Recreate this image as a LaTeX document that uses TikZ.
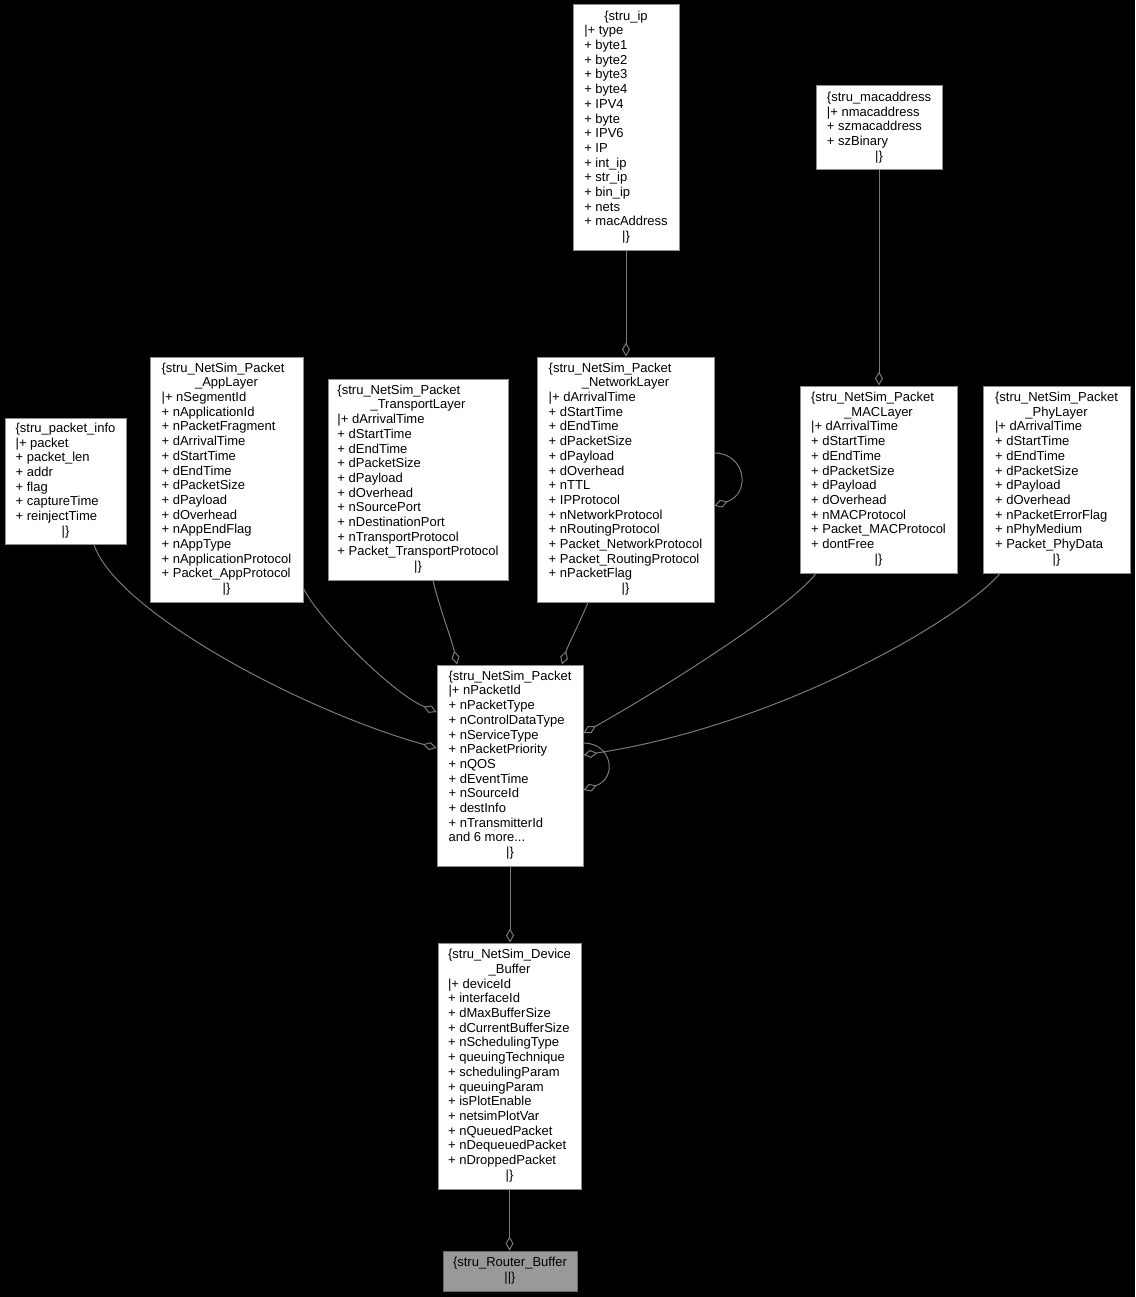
\documentclass[tikz,border=0pt]{standalone}
\usepackage{fontspec}
\setmainfont{Liberation Sans}
\usetikzlibrary{arrows.meta,calc}
\definecolor{edgegray}{RGB}{122,122,122}
\definecolor{boxgray}{RGB}{140,140,140}
\definecolor{routerfill}{RGB}{153,153,153}
\definecolor{routerdraw}{RGB}{102,102,102}
\newcommand\recfnt{\fontsize{13}{14.7}\selectfont}
\newcommand\ctr[1]{\multicolumn{1}{c}{#1}}
\begin{document}
\begin{tikzpicture}[x=1pt,y=-1pt,
  rec/.style={draw=boxgray, fill=white, line width=1pt, inner sep=0pt, font=\recfnt, text=black},
  agg/.style={draw=edgegray, line width=1pt, -{Diamond[open,length=14pt,width=8pt]}}]
\fill[black] (0,0) rectangle (1135,1297);
\useasboundingbox (0,0) rectangle (1135,1297);

\node[rec, minimum width=106pt, minimum height=245pt] (ip) at (626,127.5) {\begin{tabular}{@{}l@{}}\ctr{\{stru\_ip}\\|+ type\\+ byte1\\+ byte2\\+ byte3\\+ byte4\\+ IPV4\\+ byte\\+ IPV6\\+ IP\\+ int\_ip\\+ str\_ip\\+ bin\_ip\\+ nets\\+ macAddress\\\ctr{|\}}\end{tabular}};

\node[rec, minimum width=126pt, minimum height=84pt] (mac) at (879,128) {\begin{tabular}{@{}l@{}}\{stru\_macaddress\\|+ nmacaddress\\+ szmacaddress\\+ szBinary\\\ctr{|\}}\end{tabular}};

\node[rec, minimum width=121pt, minimum height=126pt] (pinfo) at (65.5,481) {\begin{tabular}{@{}l@{}}\{stru\_packet\_info\\|+ packet\\+ packet\_len\\+ addr\\+ flag\\+ captureTime\\+ reinjectTime\\\ctr{|\}}\end{tabular}};

\node[rec, minimum width=153pt, minimum height=245pt] (app) at (226.5,479.5) {\begin{tabular}{@{}l@{}}\{stru\_NetSim\_Packet\\\ctr{\_AppLayer}\\|+ nSegmentId\\+ nApplicationId\\+ nPacketFragment\\+ dArrivalTime\\+ dStartTime\\+ dEndTime\\+ dPacketSize\\+ dPayload\\+ dOverhead\\+ nAppEndFlag\\+ nAppType\\+ nApplicationProtocol\\+ Packet\_AppProtocol\\\ctr{|\}}\end{tabular}};

\node[rec, minimum width=180pt, minimum height=201pt] (trans) at (418,479.5) {\begin{tabular}{@{}l@{}}\{stru\_NetSim\_Packet\\\ctr{\_TransportLayer}\\|+ dArrivalTime\\+ dStartTime\\+ dEndTime\\+ dPacketSize\\+ dPayload\\+ dOverhead\\+ nSourcePort\\+ nDestinationPort\\+ nTransportProtocol\\+ Packet\_TransportProtocol\\\ctr{|\}}\end{tabular}};

\node[rec, minimum width=177pt, minimum height=245pt] (net) at (625.5,479.5) {\begin{tabular}{@{}l@{}}\{stru\_NetSim\_Packet\\\ctr{\_NetworkLayer}\\|+ dArrivalTime\\+ dStartTime\\+ dEndTime\\+ dPacketSize\\+ dPayload\\+ dOverhead\\+ nTTL\\+ IPProtocol\\+ nNetworkProtocol\\+ nRoutingProtocol\\+ Packet\_NetworkProtocol\\+ Packet\_RoutingProtocol\\+ nPacketFlag\\\ctr{|\}}\end{tabular}};

\node[rec, minimum width=157pt, minimum height=187pt] (maclayer) at (878.5,479.5) {\begin{tabular}{@{}l@{}}\{stru\_NetSim\_Packet\\\ctr{\_MACLayer}\\|+ dArrivalTime\\+ dStartTime\\+ dEndTime\\+ dPacketSize\\+ dPayload\\+ dOverhead\\+ nMACProtocol\\+ Packet\_MACProtocol\\+ dontFree\\\ctr{|\}}\end{tabular}};

\node[rec, minimum width=147pt, minimum height=187pt] (phy) at (1056.5,479.5) {\begin{tabular}{@{}l@{}}\{stru\_NetSim\_Packet\\\ctr{\_PhyLayer}\\|+ dArrivalTime\\+ dStartTime\\+ dEndTime\\+ dPacketSize\\+ dPayload\\+ dOverhead\\+ nPacketErrorFlag\\+ nPhyMedium\\+ Packet\_PhyData\\\ctr{|\}}\end{tabular}};

\node[rec, minimum width=146pt, minimum height=201pt] (packet) at (510,765.5) {\begin{tabular}{@{}l@{}}\{stru\_NetSim\_Packet\\|+ nPacketId\\+ nPacketType\\+ nControlDataType\\+ nServiceType\\+ nPacketPriority\\+ nQOS\\+ dEventTime\\+ nSourceId\\+ destInfo\\+ nTransmitterId\\and 6 more...\\\ctr{|\}}\end{tabular}};

\node[rec, minimum width=143pt, minimum height=246pt] (devbuf) at (509.5,1066) {\begin{tabular}{@{}l@{}}\{stru\_NetSim\_Device\\\ctr{\_Buffer}\\|+ deviceId\\+ interfaceId\\+ dMaxBufferSize\\+ dCurrentBufferSize\\+ nSchedulingType\\+ queuingTechnique\\+ schedulingParam\\+ queuingParam\\+ isPlotEnable\\+ netsimPlotVar\\+ nQueuedPacket\\+ nDequeuedPacket\\+ nDroppedPacket\\\ctr{|\}}\end{tabular}};

\node[rec, draw=routerdraw, fill=routerfill, minimum width=134pt, minimum height=40pt] (router) at (510,1271) {\begin{tabular}{@{}c@{}}\{stru\_Router\_Buffer\\||\}\end{tabular}};

\draw[agg] (ip.south) -- (ip.south |- net.north);
\draw[agg] (mac.south) -- (mac.south |- maclayer.north);
\draw[agg] (packet.south) -- (packet.south |- devbuf.north);
\draw[agg] (devbuf.south) -- (devbuf.south |- router.north);
\draw[agg] ($(net.east)+(0,-26.5)$) .. controls (745,453) and (752,493) .. ($(net.east)+(0,26.5)$);
\draw[agg] ($(pinfo.south)+(28.5,0)$) .. controls (115,610) and (300,710) .. ($(packet.west)+(0,-17.5)$);
\draw[agg] ($(app.south east)+(0,-14)$) .. controls (318,618) and (390,692) .. ($(packet.west)+(0,-53.5)$);
\draw[agg] ($(trans.south)+(15,0)$) .. controls (440,610) and (452,640) .. ($(packet.north)+(-53,0)$);
\draw[agg] ($(net.south)+(-37.5,0)$) .. controls (580,622) and (568,645) .. ($(packet.north)+(52,0)$);
\draw[agg] ($(maclayer.south)+(-62.5,0)$) .. controls (785,612) and (660,690) .. ($(packet.east)+(0,-32.5)$);
\draw[agg] ($(phy.south)+(-56.5,0)$) .. controls (960,620) and (780,725) .. ($(packet.east)+(0,-10.5)$);
\draw[agg] ($(packet.east)+(0,-22.5)$) .. controls (612,743) and (618,778) .. ($(packet.east)+(0,24.5)$);
\end{tikzpicture}
\end{document}
